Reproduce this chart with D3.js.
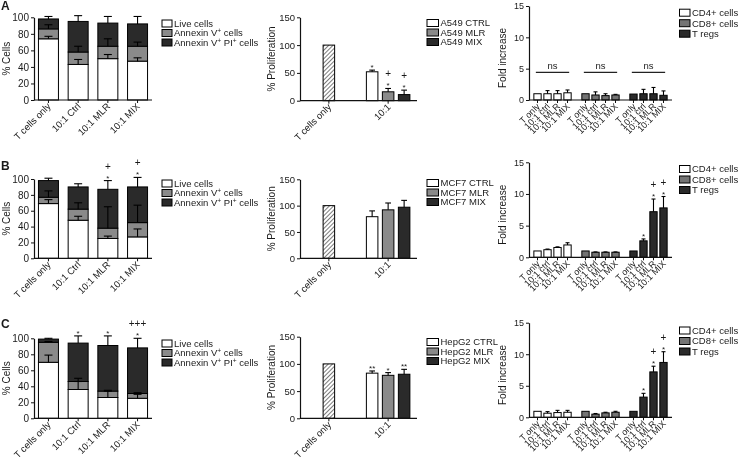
<!DOCTYPE html>
<html><head><meta charset="utf-8">
<script src="https://cdn.jsdelivr.net/npm/d3@7"></script>
<style>
body{margin:0;background:#fff}
svg{display:block;transform:translateZ(0)}
text{font-family:"Liberation Sans",Arial,Helvetica,sans-serif;fill:#1a1a1a}
</style>
</head><body>
<svg id="chart" width="740" height="462"></svg>
<script>
// ---------------- DATA ----------------
const panelLetters = ["A", "B", "C"];

// Left column: viability (% cells), stacked
const viabilityCategories = ["T cells only", "10:1 Ctrl", "10:1 MLR", "10:1 MIX"];
const viabilitySeries = ["Live cells", "Annexin V+ cells", "Annexin V+ PI+ cells"];
const viabilityLive    = [[74, 43, 50, 47], [69, 48, 25, 27], [70, 36, 26, 25]];
const viabilityAnnexin = [[12, 15, 15, 18], [8, 14, 13, 18], [25, 10, 8, 6]];
const viabilityDead    = [[12, 37, 28, 27], [21, 28, 49, 45], [4, 48, 57, 57]];
const viabilityLiveErr    = [[3, 6, 5, 4], [5, 5, 3, 10], [9, 10, 8, 5]];
const viabilityAnnexinErr = [[5, 7, 9, 5], [8, 8, 27, 22], [1, 4, 1, 1]];
const viabilityDeadErr    = [[3, 7, 8, 9], [3, 4, 11, 12], [1, 9, 12, 12]];
const viabilitySig = [
  [[], [], [], []],
  [[], [], ["*", "+"], ["*", "+"]],
  [[], ["*"], ["*"], ["*", "+++"]]
];
const viabilityTicks = [0, 20, 40, 60, 80, 100];

// Middle column: proliferation
const prolifGroups = ["T cells only", "10:1"];
const prolifCellLines = ["A549", "MCF7", "HepG2"];
const prolifConditions = ["CTRL", "MLR", "MIX"];
const prolifControl = [100, 100, 100];
const prolifValues = [[52, 16, 11], [79, 92, 97], [83, 79, 81]];
const prolifErr = [[3, 6, 8], [11, 13, 13], [4, 5, 9]];
const prolifSig = [
  [["*"], ["*", "+"], ["*", "+"]],
  [[], [], []],
  [["**"], ["*"], ["**"]]
];
const prolifTicks = [0, 50, 100, 150];

// Right column: fold increase of T-cell subsets
const subsetNames = ["CD4+ cells", "CD8+ cells", "T regs"];
const subsetConditions = ["T only", "10:1 ctrl", "10:1 MLR", "10:1 MIX"];
const foldCD4     = [[1.0, 1.0, 1.0, 1.15], [1.0, 1.2, 1.55, 1.95], [0.95, 0.65, 0.75, 0.8]];
const foldCD4Err  = [[0, 0.5, 0.5, 0.45], [0, 0.1, 0.1, 0.35], [0, 0.25, 0.35, 0.3]];
const foldCD8     = [[1.0, 0.8, 0.7, 0.8], [1.0, 0.8, 0.8, 0.8], [0.95, 0.5, 0.7, 0.8]];
const foldCD8Err  = [[0, 0.5, 0.3, 0.1], [0, 0.05, 0.05, 0.05], [0, 0.1, 0.1, 0.15]];
const foldTreg    = [[0.95, 1.0, 1.0, 0.75], [1.0, 2.6, 7.2, 7.8], [0.95, 3.2, 7.2, 8.7]];
const foldTregErr = [[0, 0.7, 1.0, 0.7], [0, 0.3, 2.0, 1.8], [0, 0.6, 0.9, 1.7]];
const foldTregSig = [
  [[], [], [], []],
  [[], ["*"], ["*", "+"], ["*", "+"]],
  [[], ["*"], ["*", "+"], ["*", "+"]]
];
const foldNs = [["ns", "ns", "ns"], [], []];
const foldNsLevel = 4.4;
const foldTicks = [0, 5, 10, 15];

// ---------------- LAYOUT ----------------
const rowLayout = [
  {letterY: 9.5, left: [17.3, 100], mid: [17.3, 100.7], right: [6, 100], legL: 23.5, legM: 23, legR: 12.7},
  {letterY: 170, left: [179, 258.3], mid: [179.3, 258.3], right: [162.3, 257.3], legL: 183.5, legM: 183, legR: 169},
  {letterY: 328, left: [338.3, 418.3], mid: [336.7, 418.3], right: [322.7, 417.3], legL: 343.5, legM: 342, legR: 330.5}
];
const WHITE = "#ffffff", GREY = "#8a8a8a", GREY2 = "#747474", DARK = "#2a2a2a";
const INK = "#1a1a1a";

const svg = d3.select("#chart");
const defs = svg.append("defs");
const pat = defs.append("pattern").attr("id", "hatch").attr("patternUnits", "userSpaceOnUse")
  .attr("width", 3).attr("height", 3).attr("patternTransform", "rotate(45)");
pat.append("rect").attr("width", 3).attr("height", 3).attr("fill", "#fff");
pat.append("line").attr("x1", 0).attr("y1", 0).attr("x2", 0).attr("y2", 3)
  .attr("stroke", "#333").attr("stroke-width", 1.3);

function styleAxis(g, fs) {
  g.selectAll("path.domain").attr("stroke", "#111").attr("stroke-width", 1.2);
  g.selectAll(".tick line").attr("stroke", "#111").attr("stroke-width", 1);
  g.selectAll(".tick text").attr("font-size", fs).attr("fill", INK)
    .style("font-family", '"Liberation Sans",Arial,sans-serif');
}
function rotateLabels(g, ox, oy) {
  g.selectAll(".tick text")
    .attr("x", 0).attr("y", 0).attr("dy", 0)
    .attr("text-anchor", "end")
    .attr("transform", `translate(${ox},${oy}) rotate(-45)`);
}
function errBar(g, x, yBase, yTop, w) {
  g.append("line").attr("x1", x).attr("x2", x).attr("y1", yBase).attr("y2", yTop)
    .attr("stroke", "#000").attr("stroke-width", 1.1);
  g.append("line").attr("x1", x - w / 2).attr("x2", x + w / 2).attr("y1", yTop).attr("y2", yTop)
    .attr("stroke", "#000").attr("stroke-width", 1.1);
}
function sigMarks(g, x, yTop, marks) {
  marks.forEach((m, i) => {
    if (i === 0 && m.indexOf("*") === 0) {
      g.append("text").attr("x", x).attr("y", yTop + 4).attr("text-anchor", "middle")
        .attr("font-size", 8).attr("fill", INK).text(m);
    } else {
      g.append("text").attr("x", x).attr("y", yTop - (i === 0 ? 2 : 7)).attr("text-anchor", "middle")
        .attr("font-size", 10).attr("fill", INK).text(m);
    }
  });
}
function legend(g, x0, y0, dy, bw, items, fills, fs, superPlus) {
  items.forEach((name, i) => {
    const y = y0 + i * dy;
    g.append("rect").attr("x", x0).attr("y", y - 3.5).attr("width", bw).attr("height", 7)
      .attr("fill", fills[i]).attr("stroke", "#000").attr("stroke-width", 1);
    const t = g.append("text").attr("x", x0 + bw + 2).attr("y", y + fs * 0.35).attr("font-size", fs).attr("fill", INK);
    if (superPlus) {
      let prevSup = false;
      name.split(/(\+)/).filter(p => p.length).forEach(p => {
        if (p === "+") {
          t.append("tspan").attr("font-size", fs * 0.7).attr("dy", -3).text("+");
          prevSup = true;
        } else {
          const ts = t.append("tspan").text(p);
          if (prevSup) ts.attr("dy", 3);
          prevSup = false;
        }
      });
    } else t.text(name);
  });
}

rowLayout.forEach((L, r) => {
  svg.append("text").attr("x", 1).attr("y", L.letterY).attr("font-size", 12)
    .attr("font-weight", "bold").attr("fill", "#000").text(panelLetters[r]);

  // ---------- Left: stacked viability ----------
  {
    const g = svg.append("g");
    const x = d3.scaleBand().domain(viabilityCategories).range([34, 152]).paddingInner(0.327).paddingOuter(0.15);
    const y = d3.scaleLinear().domain([0, 100]).range([L.left[1], L.left[0]]);
    const seg = [viabilityLive[r], viabilityAnnexin[r], viabilityDead[r]];
    const errs = [viabilityLiveErr[r], viabilityAnnexinErr[r], viabilityDeadErr[r]];
    const fills = [WHITE, GREY, DARK];
    viabilityCategories.forEach((c, i) => {
      let base = 0;
      seg.forEach((s, k) => {
        const top = base + s[i];
        g.append("rect").attr("x", x(c)).attr("width", x.bandwidth())
          .attr("y", y(top)).attr("height", y(base) - y(top))
          .attr("fill", fills[k]).attr("stroke", "#000").attr("stroke-width", 1);
        base = top;
      });
    });
    viabilityCategories.forEach((c, i) => {
      let base = 0;
      seg.forEach((s, k) => {
        const top = base + s[i];
        errBar(g, x(c) + x.bandwidth() / 2, y(top), y(top + errs[k][i]), x.bandwidth() * 0.4);
        base = top;
      });
      const total = base + errs[2][i];
      sigMarks(g, x(c) + x.bandwidth() / 2, y(total) - 4, viabilitySig[r][i]);
    });
    const ax = g.append("g").attr("transform", `translate(34,0)`)
      .call(d3.axisLeft(y).tickValues(viabilityTicks).tickSize(3).tickPadding(2).tickSizeOuter(0));
    styleAxis(ax, 10);
    const bx = g.append("g").attr("transform", `translate(0,${L.left[1]})`)
      .call(d3.axisBottom(x).tickSize(3).tickSizeOuter(0));
    bx.select("path.domain").attr("d", `M34,0H152`);
    styleAxis(bx, 9.5);
    rotateLabels(bx, 3, 7);
    g.append("text").attr("transform", `translate(10,${(L.left[0] + L.left[1]) / 2}) rotate(-90)`)
      .attr("text-anchor", "middle").attr("font-size", 10).attr("fill", INK).text("% Cells");
    legend(g, 162, L.legL, 9.5, 10, viabilitySeries, fills, 9.5, true);
  }

  // ---------- Middle: proliferation ----------
  {
    const g = svg.append("g");
    const x = d3.scaleBand().domain(prolifGroups).range([300, 417]).paddingInner(0.258).paddingOuter(0.116);
    const xi = d3.scaleBand().domain(prolifConditions).range([0, x.bandwidth()]).paddingInner(0.28).paddingOuter(0.015);
    const y = d3.scaleLinear().domain([0, 150]).range([L.mid[1], L.mid[0]]);
    const fills = [WHITE, GREY, DARK];
    const cx0 = x(prolifGroups[0]) + x.bandwidth() / 2;
    g.append("rect").attr("x", cx0 - xi.bandwidth() / 2).attr("width", xi.bandwidth())
      .attr("y", y(prolifControl[r])).attr("height", y(0) - y(prolifControl[r]))
      .attr("fill", "url(#hatch)").attr("stroke", "#000").attr("stroke-width", 1);
    prolifConditions.forEach((c, i) => {
      const bx0 = x(prolifGroups[1]) + xi(c);
      const v = prolifValues[r][i];
      g.append("rect").attr("x", bx0).attr("width", xi.bandwidth())
        .attr("y", y(v)).attr("height", y(0) - y(v))
        .attr("fill", fills[i]).attr("stroke", "#000").attr("stroke-width", 1);
      const cx = bx0 + xi.bandwidth() / 2;
      errBar(g, cx, y(v), y(v + prolifErr[r][i]), xi.bandwidth() * 0.5);
      sigMarks(g, cx, y(v + prolifErr[r][i]) - 4, prolifSig[r][i]);
    });
    const ax = g.append("g").attr("transform", `translate(300,0)`)
      .call(d3.axisLeft(y).tickValues(prolifTicks).tickSize(3).tickPadding(2).tickSizeOuter(0));
    styleAxis(ax, 9.5);
    const bx = g.append("g").attr("transform", `translate(0,${L.mid[1]})`)
      .call(d3.axisBottom(x).tickSize(3).tickSizeOuter(0));
    bx.select("path.domain").attr("d", `M300,0H417`);
    styleAxis(bx, 9.5);
    rotateLabels(bx, 3, 7);
    g.append("text").attr("transform", `translate(275,${(L.mid[0] + L.mid[1]) / 2}) rotate(-90)`)
      .attr("text-anchor", "middle").attr("font-size", 10).attr("fill", INK).text("% Proliferation");
    legend(g, 427, L.legM, 9.5, 11.5, prolifConditions.map(c => prolifCellLines[r] + " " + c), fills, 9.5, false);
  }

  // ---------- Right: fold increase ----------
  {
    const g = svg.append("g");
    const x = d3.scaleBand().domain(subsetNames).range([529, 672]).paddingInner(0.21).paddingOuter(0.095);
    const xi = d3.scaleBand().domain(subsetConditions).range([0, x.bandwidth()]).paddingInner(0.27).paddingOuter(0.03);
    const y = d3.scaleLinear().domain([0, 15]).range([L.right[1], L.right[0]]);
    const fills = [WHITE, GREY2, DARK];
    const vals = [foldCD4[r], foldCD8[r], foldTreg[r]];
    const errs = [foldCD4Err[r], foldCD8Err[r], foldTregErr[r]];
    subsetNames.forEach((s, k) => {
      subsetConditions.forEach((c, i) => {
        const bx0 = x(s) + xi(c);
        const v = vals[k][i];
        g.append("rect").attr("x", bx0).attr("width", xi.bandwidth())
          .attr("y", y(v)).attr("height", y(0) - y(v))
          .attr("fill", fills[k]).attr("stroke", "#000").attr("stroke-width", 1);
        const cx = bx0 + xi.bandwidth() / 2;
        if (errs[k][i] > 0) errBar(g, cx, y(v), y(v + errs[k][i]), xi.bandwidth() * 0.55);
        if (k === 2) sigMarks(g, cx, y(v + errs[k][i]) - 4, foldTregSig[r][i]);
      });
      const sub = g.append("g").attr("transform", `translate(${x(s)},${L.right[1]})`)
        .call(d3.axisBottom(xi).tickSize(3).tickSizeOuter(0));
      sub.select("path.domain").remove();
      styleAxis(sub, 9);
      rotateLabels(sub, 3, 7);
      if (foldNs[r][k]) {
        const x1 = x(s) + xi(subsetConditions[0]) + 2, x2 = x(s) + xi(subsetConditions[3]) + xi.bandwidth() - 2;
        g.append("line").attr("x1", x1).attr("x2", x2).attr("y1", y(foldNsLevel)).attr("y2", y(foldNsLevel))
          .attr("stroke", "#222").attr("stroke-width", 1.3);
        g.append("text").attr("x", (x1 + x2) / 2).attr("y", y(foldNsLevel) - 3).attr("text-anchor", "middle")
          .attr("font-size", 9.5).attr("fill", INK).text(foldNs[r][k]);
      }
    });
    const ax = g.append("g").attr("transform", `translate(529,0)`)
      .call(d3.axisLeft(y).tickValues(foldTicks).tickSize(3).tickPadding(2).tickSizeOuter(0));
    styleAxis(ax, 9);
    const bx = g.append("g").attr("transform", `translate(0,${L.right[1]})`)
      .call(d3.axisBottom(x).tickValues([]).tickSizeOuter(0));
    bx.select("path.domain").attr("d", `M529,0H672`);
    styleAxis(bx, 9);
    g.append("text").attr("transform", `translate(506,${(L.right[0] + L.right[1]) / 2 + 5}) rotate(-90)`)
      .attr("text-anchor", "middle").attr("font-size", 10).attr("fill", INK).text("Fold increase");
    legend(g, 679.5, L.legR, 10.5, 10.5, subsetNames, fills, 9.5, false);
  }
});
</script>
</body></html>
